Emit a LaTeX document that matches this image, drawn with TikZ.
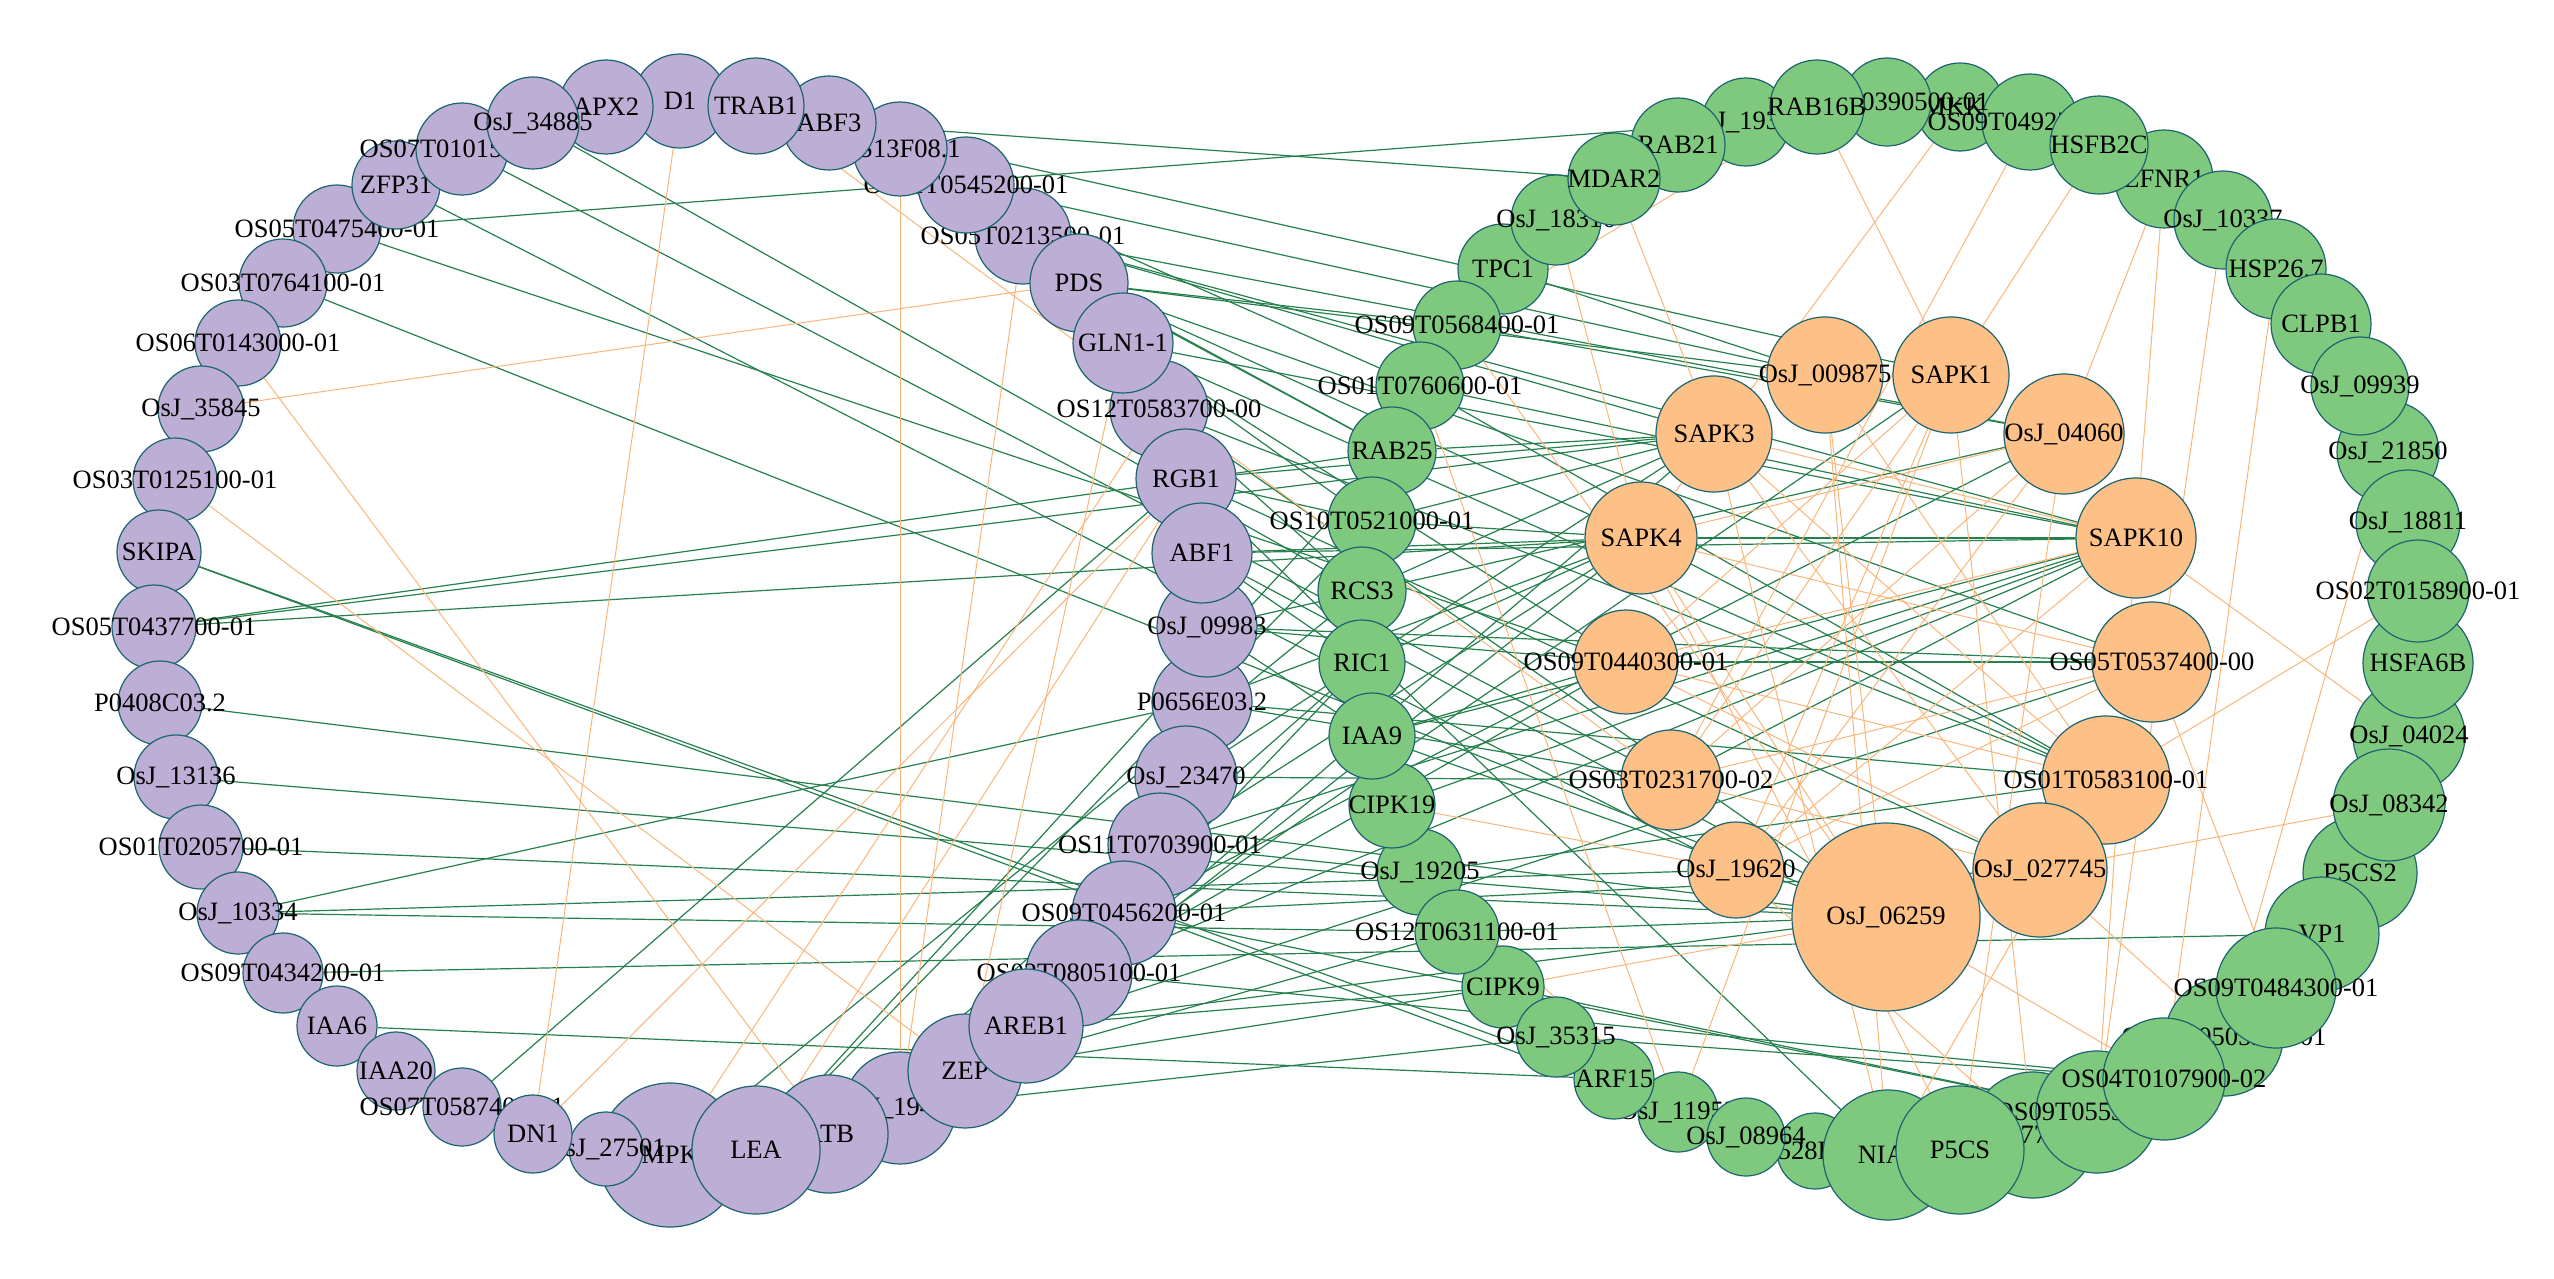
\documentclass[tikz,border=0pt]{standalone}
\usepackage{fontspec}
\setmainfont{Liberation Serif}
\definecolor{pur}{RGB}{188,174,212}
\definecolor{grn}{RGB}{127,201,127}
\definecolor{org}{RGB}{253,192,134}
\definecolor{bord}{RGB}{28,100,112}
\definecolor{gline}{RGB}{38,128,78}
\definecolor{oline}{RGB}{250,182,122}
\pgfdeclarelayer{bg}
\pgfsetlayers{bg,main}
\newcommand{\lblfont}{\fontsize{26.5pt}{30pt}\selectfont}
\newcommand{\mynode}[6]{\node[#5,minimum size=2*#4pt] (#1) at (#2,#3) {};\node[lbl] (#1t) at (#1.center) {#6};}
\begin{document}
\begin{tikzpicture}[x=1pt,y=-1pt,
  base/.style={circle,draw=bord,line width=1.2pt,inner sep=0pt},
  pn/.style={base,fill=pur},
  gn/.style={base,fill=grn},
  on/.style={base,fill=org},
  lbl/.style={font=\lblfont,inner sep=0pt,text=black},
  gedge/.style={draw=gline,line width=1.2pt},
  oedge/.style={draw=oline,line width=1pt}]
\useasboundingbox (0,0) rectangle (2554,1279);
% ---- left ring (purple) ----
\mynode{D1}{680}{101}{47}{pn}{D1}
\mynode{OS05475}{337}{229}{44}{pn}{OS05T0475400-01}
\mynode{ZFP31}{396}{185}{44}{pn}{ZFP31}
\mynode{OS07101}{462}{149}{46}{pn}{OS07T0101500-01}
\mynode{APX2}{606}{107}{47}{pn}{APX2}
\mynode{J34885}{533}{123}{46}{pn}{OsJ\_34885}
\mynode{OS03764}{283}{283}{44}{pn}{OS03T0764100-01}
\mynode{OS06143}{238}{343}{43}{pn}{OS06T0143000-01}
\mynode{J35845}{201}{409}{43}{pn}{OsJ\_35845}
\mynode{OS03125}{175}{480}{42}{pn}{OS03T0125100-01}
\mynode{SKIPA}{159}{552}{42}{pn}{SKIPA}
\mynode{OS05437}{154}{627}{42}{pn}{OS05T0437700-01}
\mynode{P0408}{160}{703}{42}{pn}{P0408C03.2}
\mynode{J13136}{176}{777}{42}{pn}{OsJ\_13136}
\mynode{OS01205}{201}{847}{42}{pn}{OS01T0205700-01}
\mynode{J10334}{238}{913}{41}{pn}{OsJ\_10334}
\mynode{OS09434}{283}{973}{40}{pn}{OS09T0434200-01}
\mynode{IAA6}{337}{1026}{40}{pn}{IAA6}
\mynode{IAA20}{396}{1071}{39}{pn}{IAA20}
\mynode{OS07587}{462}{1107}{39}{pn}{OS07T0587400-01}
\mynode{MPK}{670}{1155}{72}{pn}{MPK}
\mynode{J2750}{606}{1149}{37}{pn}{OsJ\_27501}
\mynode{DN1}{533}{1134}{39}{pn}{DN1}
\mynode{J19p}{900}{1108}{56}{pn}{OsJ\_19475}
\mynode{ATB}{829}{1134}{59}{pn}{ATB}
\mynode{LEA}{756}{1150}{64}{pn}{LEA}
\mynode{P0656}{1202}{702}{50}{pn}{P0656E03.2}
\mynode{J23470}{1186}{777}{51}{pn}{OsJ\_23470}
\mynode{OS11703}{1160}{845}{52}{pn}{OS11T0703900-01}
\mynode{OS09456}{1124}{913}{52}{pn}{OS09T0456200-01}
\mynode{OS02805}{1079}{973}{53}{pn}{OS02T0805100-01}
\mynode{ZEP}{965}{1071}{57}{pn}{ZEP}
\mynode{AREB1}{1026}{1026}{57}{pn}{AREB1}
\mynode{J09983}{1207}{627}{50}{pn}{OsJ\_09983}
\mynode{OS12583}{1159}{409}{49}{pn}{OS12T0583700-00}
\mynode{RGB1}{1186}{479}{50}{pn}{RGB1}
\mynode{ABF1}{1202}{553}{50}{pn}{ABF1}
\mynode{OS0213}{1023}{236}{48}{pn}{OS05T0213500-01}
\mynode{PDS}{1079}{283}{49}{pn}{PDS}
\mynode{GLN}{1123}{343}{50}{pn}{GLN1-1}
\mynode{OS0545}{966}{185}{48}{pn}{OS01T0545200-01}
\mynode{F08}{900}{149}{47}{pn}{OS13F08.1}
\mynode{ABF3}{829}{123}{47}{pn}{ABF3}
\mynode{TRAB1}{756}{106}{48}{pn}{TRAB1}
% ---- right ring (green) ----
\mynode{MKK}{1960}{107}{44}{gn}{MKK1}
\mynode{OS09492}{2030}{122}{48}{gn}{OS09T0492700-01}
\mynode{LFNR1}{2164}{179}{49}{gn}{LFNR1}
\mynode{HSFB2C}{2099}{145}{49}{gn}{HSFB2C}
\mynode{J10337}{2223}{220}{49}{gn}{OsJ\_10337}
\mynode{HSP267}{2276}{269}{50}{gn}{HSP26.7}
\mynode{CLPB1}{2321}{324}{50}{gn}{CLPB1}
\mynode{J21850}{2388}{452}{51}{gn}{OsJ\_21850}
\mynode{J09939}{2360}{386}{49}{gn}{OsJ\_09939}
\mynode{J18811}{2408}{522}{52}{gn}{OsJ\_18811}
\mynode{J04024}{2409}{736}{56}{gn}{OsJ\_04024}
\mynode{HSFA6B}{2418}{663}{55}{gn}{HSFA6B}
\mynode{OS02158}{2418}{591}{51}{gn}{OS02T0158900-01}
\mynode{P5CS2}{2360}{873}{57}{gn}{P5CS2}
\mynode{J08342}{2389}{805}{56}{gn}{OsJ\_08342}
\mynode{VP1}{2322}{934}{57}{gn}{VP1}
\mynode{OS0505}{2224}{1037}{59}{gn}{OS12T0505300-01}
\mynode{OS09484}{2276}{988}{60}{gn}{OS09T0484300-01}
\mynode{OS03775}{2033}{1135}{63}{gn}{OS03T0775600-01}
\mynode{OS09553}{2097}{1112}{61}{gn}{OS09T0553200-01}
\mynode{OS04107}{2164}{1079}{61}{gn}{OS04T0107900-02}
\mynode{P0528}{1815}{1151}{38}{gn}{P0528E04.1}
\mynode{NIA}{1888}{1155}{65}{gn}{NIA1}
\mynode{P5CS}{1960}{1150}{64}{gn}{P5CS}
\mynode{J11953}{1678}{1112}{40}{gn}{OsJ\_11953}
\mynode{J08964}{1746}{1137}{39}{gn}{OsJ\_08964}
\mynode{ARF15}{1614}{1079}{40}{gn}{ARF15}
\mynode{CIPK9}{1503}{987}{41}{gn}{CIPK9}
\mynode{J35315}{1556}{1037}{40}{gn}{OsJ\_35315}
\mynode{J19205}{1420}{872}{43}{gn}{OsJ\_19205}
\mynode{OS12631}{1457}{932}{42}{gn}{OS12T0631100-01}
\mynode{CIPK19}{1392}{805}{43}{gn}{CIPK19}
\mynode{TPC1}{1503}{269}{45}{gn}{TPC1}
\mynode{OS09568}{1457}{325}{44}{gn}{OS09T0568400-01}
\mynode{OS01760}{1420}{386}{44}{gn}{OS01T0760600-01}
\mynode{RAB25}{1392}{451}{44}{gn}{RAB25}
\mynode{OS10521}{1372}{521}{44}{gn}{OS10T0521000-01}
\mynode{RCS3}{1362}{591}{44}{gn}{RCS3}
\mynode{RIC1}{1362}{663}{43}{gn}{RIC1}
\mynode{IAA9}{1372}{736}{43}{gn}{IAA9}
\mynode{J18316}{1556}{220}{45}{gn}{OsJ\_18316}
\mynode{J19358}{1746}{122}{44}{gn}{OsJ\_19358}
\mynode{RAB21}{1678}{145}{47}{gn}{RAB21}
\mynode{MDAR2}{1614}{179}{46}{gn}{MDAR2}
\mynode{OS03390}{1887}{102}{44}{gn}{OS03T0390500-01}
\mynode{RAB16B}{1817}{107}{47}{gn}{RAB16B}
% ---- inner ring (orange) ----
\mynode{J06259}{1886}{917}{94}{on}{OsJ\_06259}
\mynode{J19620}{1736}{870}{48}{on}{OsJ\_19620}
\mynode{OS01583}{2106}{780}{64}{on}{OS01T0583100-01}
\mynode{J027745}{2040}{870}{67}{on}{OsJ\_027745}
\mynode{OS03231}{1671}{780}{50}{on}{OS03T0231700-02}
\mynode{OS09440}{1626}{662}{52}{on}{OS09T0440300-01}
\mynode{OS05537}{2152}{662}{60}{on}{OS05T0537400-00}
\mynode{SAPK4}{1641}{538}{56}{on}{SAPK4}
\mynode{SAPK10}{2136}{538}{60}{on}{SAPK10}
\mynode{SAPK3}{1714}{434}{58}{on}{SAPK3}
\mynode{J04060}{2064}{434}{60}{on}{OsJ\_04060}
\mynode{J009875}{1825}{375}{58}{on}{OsJ\_009875}
\mynode{SAPK1}{1951}{375}{58}{on}{SAPK1}
% ---- edges (below nodes) ----
\begin{pgfonlayer}{bg}
\fill[white] (0,0) rectangle (2554,1279);
\foreach \a/\b in {J34885/RCS3, OS07101/OS03231, ZFP31/J19620, OS05475/J19358, OS05475/OS09440, OS03764/J06259, SKIPA/ARF15, SKIPA/J11953, OS05437/RAB25, OS05437/SAPK3, OS05437/SAPK4, P0408/J06259, J13136/J06259, OS01205/J06259, J10334/P0656, J10334/J19620, J10334/OS12631, OS09434/VP1, IAA6/ARF15, OS07587/RGB1, MPK/RCS3, TRAB1/RAB25, ABF3/MDAR2, ABF3/SAPK1, OS0545/J009875, OS0545/OS01760, OS0213/SAPK10, OS0213/SAPK3, OS0213/J04060, PDS/J009875, PDS/SAPK4, PDS/OS05537, PDS/OS09568, PDS/RAB25, GLN/OS01583, GLN/OS09440, GLN/SAPK10, GLN/OS10521, OS12583/OS01583, OS12583/J06259, OS12583/RCS3, RGB1/OS10521, RGB1/SAPK3, RGB1/J027745, RGB1/NIA, ABF1/SAPK4, ABF1/SAPK10, ABF1/J06259, ABF1/RIC1, J09983/OS05537, J09983/OS09440, J09983/J04060, J09983/IAA9, P0656/SAPK4, P0656/OS03231, P0656/OS01583, J23470/OS03231, J23470/SAPK3, OS11703/SAPK10, OS11703/SAPK4, OS11703/J19205, OS09456/J04060, OS09456/J027745, OS09456/OS09553, OS09456/RIC1, OS02805/SAPK10, OS02805/SAPK1, OS02805/OS09440, OS02805/OS04107, AREB1/SAPK4, AREB1/OS05537, AREB1/J06259, AREB1/CIPK9, AREB1/SAPK3, ZEP/CIPK9, ZEP/OS12631, J19p/J35315, LEA/OS10521, LEA/RAB25, ATB/RIC1, RAB25/SAPK3, OS10521/SAPK3, OS10521/SAPK4, RCS3/SAPK3, RIC1/SAPK4, IAA9/OS09440, IAA9/SAPK10, IAA9/J06259, CIPK19/SAPK10, J19205/OS01583, OS12631/J06259, OS01760/OS01583, OS01760/SAPK10, OS09568/J04060, TPC1/J009875, OS09440/OS05537, SAPK4/OS01583, SAPK4/SAPK10, SAPK10/OS03231, CIPK9/OS09553, J35315/OS04107}
  \draw[gedge] (\a) -- (\b);
\foreach \a/\b in {OS06143/ATB, J35845/PDS, OS03125/ZEP, D1/DN1, TRAB1/OS03231, F08/J19p, OS0213/J19p, GLN/ZEP, RGB1/DN1, RGB1/LEA, OS12583/MPK, MDAR2/SAPK3, RAB16B/SAPK1, RAB16B/OS09568, OS09492/OS03231, MKK/SAPK4, LFNR1/J04060, LFNR1/SAPK10, J10337/OS09553, HSP267/OS04107, J21850/OS0505, SAPK10/J04024, OS02158/OS01583, J08342/J027745, J06259/OS04107, J027745/OS0505, HSFB2C/SAPK1, J18316/SAPK4, OS09568/J06259, CIPK19/J19620, CIPK9/J06259, J19205/J11953, OS01760/J11953, SAPK3/OS01583, SAPK3/J027745, SAPK3/NIA, SAPK3/SAPK10, SAPK4/J04060, SAPK4/OS05537, SAPK4/P5CS, SAPK4/J06259, J009875/J06259, J009875/OS01583, J009875/NIA, SAPK1/J19620, SAPK1/OS09440, SAPK1/OS03231, SAPK1/OS03775, SAPK1/J11953, J04060/OS03231, J04060/J19620, J04060/P5CS, SAPK10/OS09440, SAPK10/J19620, SAPK10/OS09553, OS05537/OS03231, OS05537/J19620, OS05537/OS09484, OS01583/OS09440, OS01583/NIA, OS09440/J027745, OS03231/J027745, J19620/OS03775, HSFA6B/OS09484, J04024/OS0505}
  \draw[oedge] (\a) -- (\b);
\end{pgfonlayer}
\end{tikzpicture}
\end{document}
